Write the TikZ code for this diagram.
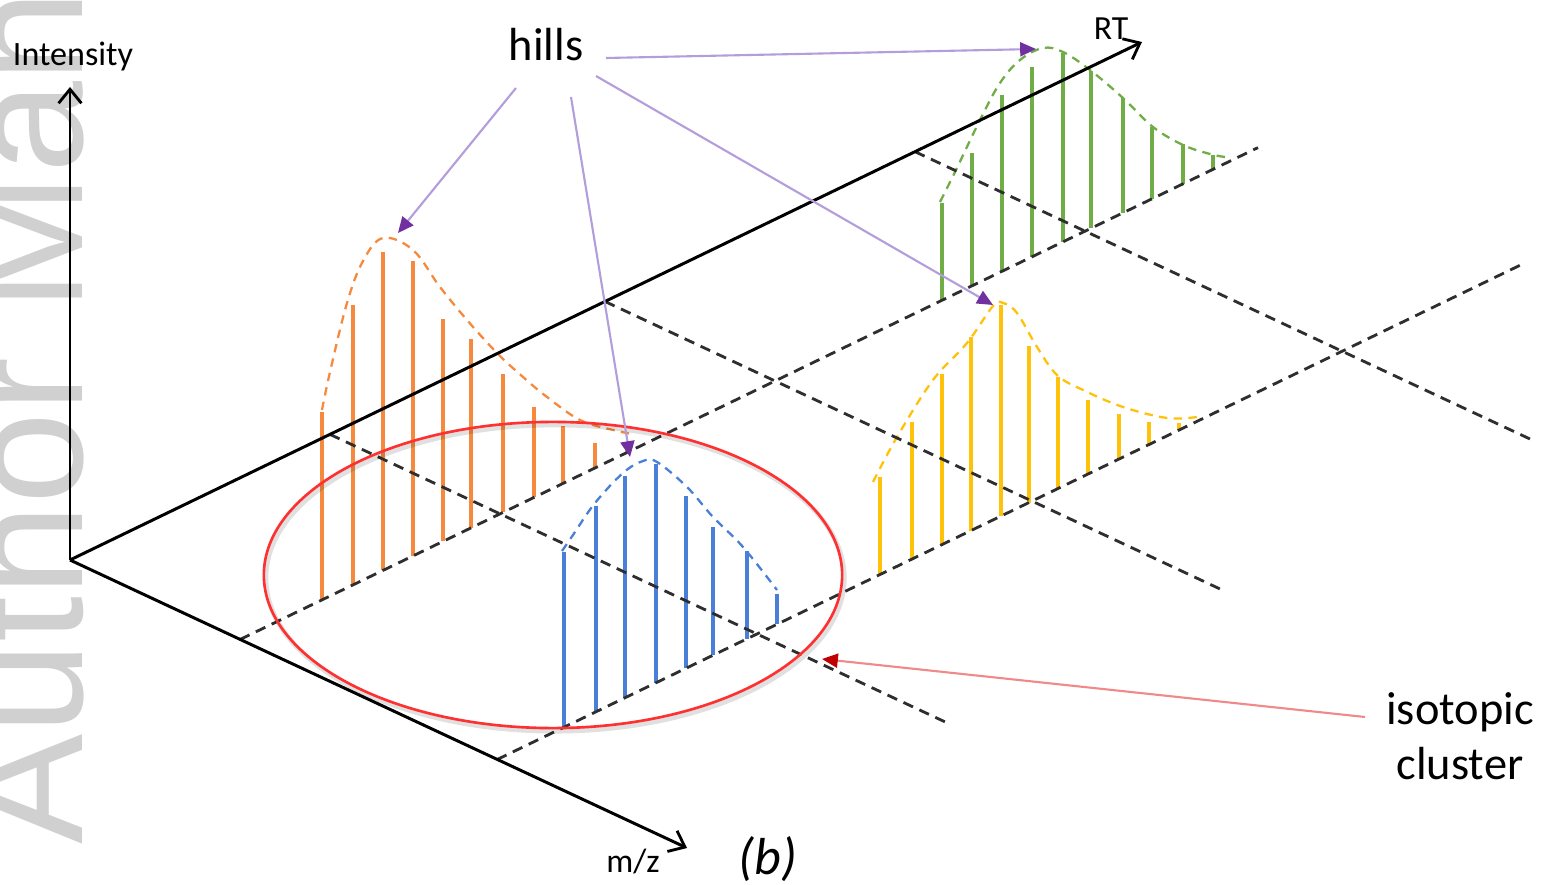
\documentclass[tikz,border=0pt]{standalone}
\usepackage{fontspec}
\setmainfont{Carlito}
\newfontfamily\wmfont{Liberation Sans}
\usetikzlibrary{arrows.meta,calc}
\definecolor{cOrange}{HTML}{F58A3E}
\definecolor{cBlue}{HTML}{4A7FD8}
\definecolor{cGreen}{HTML}{70AD47}
\definecolor{cYellow}{HTML}{FFC20A}
\definecolor{cRed}{HTML}{FF3030}
\definecolor{gridgray}{HTML}{2E2E2E}
\definecolor{arrowlight}{HTML}{B39DDB}
\definecolor{arrowdark}{HTML}{7030A0}
\definecolor{isolight}{HTML}{F08A8A}
\definecolor{isodark}{HTML}{C00000}
\definecolor{wmgray}{HTML}{D0D0D0}
\begin{document}
\begin{tikzpicture}[x=0.01cm,y=-0.01cm,
  axisline/.style={line width=0.85pt, black},
  axisarrow/.style={axisline, -{Straight Barb[length=4pt,width=6.5pt,line width=0.8pt]}},
  gridline/.style={line width=0.8pt, draw=gridgray, dash pattern=on 3pt off 2pt},
  spikeline/.style={line width=0.9pt},
  envelope/.style={line width=0.65pt, dash pattern=on 2.4pt off 1.8pt},
  hillarrow/.style={draw=arrowlight, line width=0.6pt, -{Triangle[length=4.5pt,width=4pt,color=arrowdark]}},
  isoarrow/.style={draw=isolight, line width=0.6pt, -{Triangle[length=4.5pt,width=4pt,color=isodark]}},
  lbl/.style={inner sep=0pt, text=black},
]
\useasboundingbox (0,0) rectangle (1541,885);
\fill[white] (0,0) rectangle (1541,885);

% watermark
\node[inner sep=0pt, rotate=90, anchor=base west, text=wmgray,
      font=\wmfont\fontsize{47pt}{47pt}\selectfont] (wm) at (82,845) {Author Manu};

% named points
\coordinate (O) at (70,560);
\coordinate (Itip) at (70,87);
\coordinate (RTtip) at (1142,42);
\coordinate (MZtip) at (687,848);
\coordinate (b1s) at (240,639.5);
\coordinate (b1e) at (1258,147.6);
\coordinate (b2s) at (497,759.6);
\coordinate (b2e) at (1520,265.3);
\coordinate (a1s) at (330,434.4);
\coordinate (a1e) at (947,722.8);
\coordinate (a2s) at (605,301.5);
\coordinate (a2e) at (1222,589.9);
\coordinate (a3s) at (915,151.7);
\coordinate (a3e) at (1530,439);

% spikes
\foreach \x/\t in {322/412,353/305,383/252,413/261,443/319,471/339,503/374,534/407,563/426,595/443,627/444}
  \draw[spikeline, cOrange] (\x,{639.5-0.4832*(\x-240)}) -- (\x,\t);
\foreach \x/\t in {564/552,596/506,625/476,656/464,686/496,713/527,747/551,777/594}
  \draw[spikeline, cBlue] (\x,{759.6-0.4832*(\x-497)}) -- (\x,\t);
\foreach \x/\t in {942/203,972/153,1002/95,1032/67,1063/53,1091/71,1123/98,1152/127,1183/144,1213/155}
  \draw[spikeline, cGreen] (\x,{639.5-0.4832*(\x-240)}) -- (\x,\t);
\foreach \x/\t in {880/477,912/422,942/374,971/337,1001/305,1029/346,1058/377,1088/400,1119/414,1149/422,1179/423}
  \draw[spikeline, cYellow] (\x,{759.6-0.4832*(\x-497)}) -- (\x,\t);

% envelopes
\draw[envelope, cOrange] plot[smooth, tension=0.6] coordinates {(322,410) (330,372) (347,303) (363,261) (383,238) (413,250) (440,287) (467,320) (497,353) (523,377) (547,397) (580,420) (613,430) (632,434)};
\draw[envelope, cBlue] plot[smooth, tension=0.6] coordinates {(562,551) (573,535) (595,503) (623,473) (643,461) (657,462) (687,487) (713,517) (743,547) (777,590)};
\draw[envelope, cGreen] plot[smooth, tension=0.6] coordinates {(940,202) (955,172) (980,120) (1000,83) (1020,60) (1043,48) (1063,52) (1090,70) (1123,98) (1153,127) (1183,145) (1210,154) (1225,157)};
\draw[envelope, cYellow] plot[smooth, tension=0.6] coordinates {(873,482) (897,437) (933,380) (967,343) (993,306) (1003,303) (1017,313) (1037,347) (1057,375) (1083,390) (1123,407) (1167,418) (1197,417)};

% grid
\draw[gridline] (b1s) -- (b1e);
\draw[gridline] (b2s) -- (b2e);
\draw[gridline] (a1s) -- (a1e);
\draw[gridline] (a2s) -- (a2e);
\draw[gridline] (a3s) -- (a3e);

% axes
\draw[axisarrow] (O) -- (Itip);
\draw[axisarrow] (O) -- (RTtip);
\draw[axisarrow] (O) -- (MZtip);

% isotopic cluster ellipse
\draw[line width=1.4pt, black, opacity=0.12] (555,578) ellipse [x radius=2.89cm, y radius=1.53cm];
\draw[line width=0.75pt, cRed] (553,575) ellipse [x radius=2.89cm, y radius=1.53cm];

% labels
\node[lbl, font=\fontsize{9.7pt}{11pt}\selectfont] (intensity) at (73,57) {Intensity};
\node[lbl, font=\fontsize{9.6pt}{11pt}\selectfont] (rt) at (1111,29) {RT};
\node[lbl, font=\fontsize{9.6pt}{11pt}\selectfont] (mz) at (633,861) {m/z};
\node[lbl, font=\fontsize{14.8pt}{16pt}\selectfont\itshape] (b) at (768,859) {(b)};
\node[lbl, font=\fontsize{13.2pt}{15pt}\selectfont] (hills) at (546,45) {hills};
\node[lbl, align=center, font=\fontsize{13.2pt}{15.5pt}\selectfont] (iso) at (1460,736) {isotopic\\cluster};

% hill arrows
\coordinate (hs1) at (516,88);
\coordinate (hs2) at (571,97);
\coordinate (hs3) at (596,76);
\coordinate (hs4) at (606,58);
\coordinate (pkO) at (398,233);
\coordinate (pkB) at (630,457);
\coordinate (pkY) at (993,305);
\coordinate (pkG) at (1036,49);
\draw[hillarrow] (hs1) -- (pkO);
\draw[hillarrow] (hs2) -- (pkB);
\draw[hillarrow] (hs3) -- (pkY);
\draw[hillarrow] (hs4) -- (pkG);

% isotopic arrow
\coordinate (isoS) at (1365,717);
\coordinate (isoT) at (822,659);
\draw[isoarrow] (isoS) -- (isoT);
\end{tikzpicture}
\end{document}
